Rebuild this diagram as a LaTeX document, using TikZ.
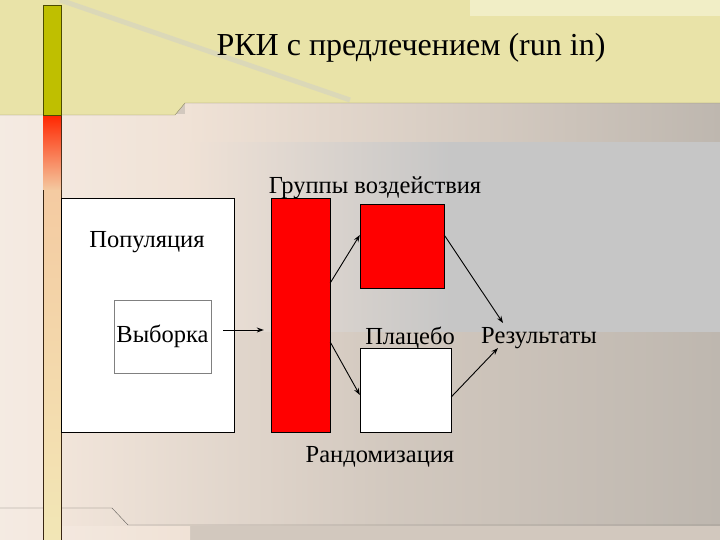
\documentclass[tikz,border=0pt]{standalone}
\usepackage{fontspec}
\setmainfont{Liberation Serif}
\usetikzlibrary{arrows.meta}
\definecolor{bandyellow}{HTML}{E9E3A8}
\definecolor{paleyellow}{HTML}{F1EEC6}
\definecolor{olivebar}{HTML}{BFBF00}
\definecolor{greyband}{HTML}{C6C6C6}
\definecolor{taupe}{HTML}{BEB7AF}
\definecolor{peach}{HTML}{F0E2D6}
\definecolor{slidered}{HTML}{FF0000}
\begin{document}
\begin{tikzpicture}[x=1pt,y=-1pt,
    box/.style={draw,rectangle,inner sep=0pt},
    txt/.style={inner sep=0pt,font=\fontsize{24.5}{26}\selectfont},
    arr/.style={-{Stealth[length=7pt,width=5pt]},line width=0.9pt}]
    \useasboundingbox (0,0) rectangle (720,540);
    % background
    \fill[taupe!60!peach] (0,0) rectangle (720,540);
    \shade[left color=peach!70!white,right color=peach] (0,115) rectangle (190,540);
    \shade[left color=peach,right color=taupe] (185,103) rectangle (720,143);
    \shade[left color=peach,right color=greyband,middle color=greyband] (185,143) rectangle (720,332);
    \shade[left color=peach!90!white,right color=taupe,middle color=taupe!60!peach] (61,332) rectangle (720,525);
    \fill[bandyellow] (0,0) -- (720,0) -- (720,103) -- (185,103) -- (175,115) -- (0,115) -- cycle;
    \fill[paleyellow] (470,0) rectangle (720,16);
    \draw[gray!40!white,opacity=0.45,line width=5pt] (60,0) -- (350,100);
    \draw[black!40!bandyellow] (0,115) -- (175,115) -- (185,103) -- (720,103);
    \draw[black!50!taupe] (0,508) -- (112,508) -- (128,525) -- (720,525);
    \shade[top color=orange!25!peach,bottom color=yellow!15!peach] (43,175) rectangle (61,540);
    \draw[black!70!brown,line width=0.6pt] (43,115) -- (43,540) (61,115) -- (61,540);
    \shade[top color=red!70!orange,bottom color=orange!25!peach] (43,115) rectangle (61,190);
    \draw[black!60!olivebar,fill=olivebar,line width=0.6pt] (43,5) rectangle (61,115);

    % title
    \node[inner sep=0pt,font=\fontsize{32}{34}\selectfont] (title) at (411,48) {РКИ с предлечением (run in)};

    % diagram
    \node[box,fill=white,minimum width=173pt,minimum height=234pt] (population) at (147.5,315) {};
    \node[txt] (poplabel) at (147,242) {Популяция};
    \node[box,draw=black!50,fill=white,minimum width=97pt,minimum height=73pt,txt] (sample) at (162.5,336.5) {Выборка};
    \node[box,fill=slidered,minimum width=59pt,minimum height=234pt] (randbar) at (300.5,315) {};
    \node[box,fill=slidered,minimum width=84pt,minimum height=84pt] (treatment) at (402,246) {};
    \node[box,fill=white,minimum width=91pt,minimum height=84pt] (placebo) at (405.5,390) {};
    \node[txt] (groups) at (375,188) {Группы воздействия};
    \node[txt] (placebolabel) at (410,338) {Плацебо};
    \node[txt,anchor=west] (results) at (481,338) {Результаты};
    \node[txt] (randlabel) at (380,457) {Рандомизация};

    \draw[arr] ([xshift=12pt,yshift=6.5pt]sample.east) -- ([xshift=-7pt,yshift=-15pt]randbar.west);
    \draw[arr] ([yshift=32pt]randbar.east) -- ([yshift=11pt]treatment.west);
    \draw[arr] ([yshift=-27pt]randbar.east) -- ([yshift=-5pt]placebo.west);
    \draw[arr] ([yshift=11pt]treatment.east) -- ([xshift=22pt,yshift=15pt]results.west);
    \draw[arr] ([yshift=-7pt]placebo.east) -- ([xshift=17pt,yshift=-10pt]results.west);
\end{tikzpicture}
\end{document}
